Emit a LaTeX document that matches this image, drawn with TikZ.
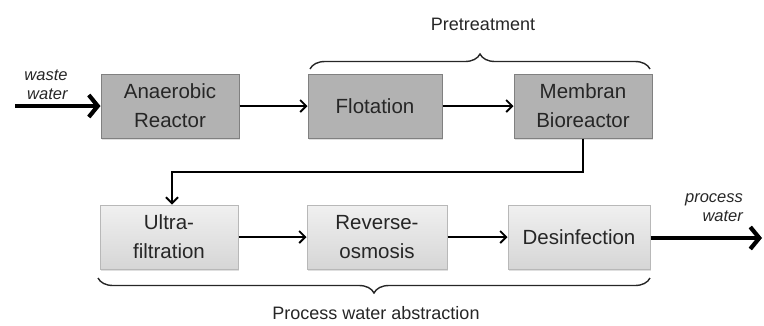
\documentclass[tikz,border=0pt]{standalone}
\usepackage{fontspec}
\setmainfont{Liberation Sans}
\usetikzlibrary{arrows.meta,decorations.pathreplacing,shadows}
\definecolor{txt}{HTML}{262626}
\definecolor{darkfill}{HTML}{B2B2B2}
\definecolor{darkline}{HTML}{808080}
\definecolor{lighttop}{HTML}{F0F0F0}
\definecolor{lightbot}{HTML}{D6D6D6}
\definecolor{lightline}{HTML}{B8B8B8}
\tikzset{
  x=1pt, y=-1pt,
  boxbase/.style={minimum width=138pt, minimum height=64pt, align=center,
    font=\fontsize{20.5}{29}\selectfont, text=txt, inner sep=2pt,
    drop shadow={shadow xshift=1.2pt, shadow yshift=-1.5pt, opacity=0.25}},
  darkbox/.style={boxbase, fill=darkfill, draw=darkline, line width=1pt},
  lightbox/.style={boxbase, top color=lighttop, bottom color=lightbot, draw=lightline, line width=1pt},
  flow/.style={line width=1.6pt, draw=black, -{Straight Barb[length=6pt,width=12pt,line width=1.8pt]}},
  bigflow/.style={line width=4.8pt, draw=black, -{Straight Barb[length=9pt,width=22pt,line width=4.2pt]}},
  bracestyle/.style={decorate, decoration={brace, amplitude=15pt, aspect=0.5}, line width=1.4pt, draw=txt},
  lbl/.style={font=\fontsize{18}{21}\selectfont, text=txt},
  ilbl/.style={font=\fontsize{16.5}{19}\selectfont\itshape, text=txt, align=right}
}
\begin{document}
\begin{tikzpicture}
\useasboundingbox (0,0) rectangle (764,325);
% top row
\node[darkbox] (ana) at (170,106) {Anaerobic\\Reactor};
\node[darkbox, minimum width=134pt] (flo) at (375,106) {Flotation};
\node[darkbox] (mbr) at (583,106) {Membran\\Bioreactor};
% bottom row
\node[lightbox] (uf) at (169,237) {Ultra-\\filtration};
\node[lightbox, minimum width=140pt] (ro) at (377,237) {Reverse-\\osmosis};
\node[lightbox, minimum width=142pt] (des) at (579,237) {Desinfection};
% inputs / outputs
\coordinate (win) at (15,106);
\coordinate (wout) at (762,238);
\draw[bigflow] (win) -- (ana.west);
\draw[bigflow] (des.east |- wout) -- (wout);
\node[ilbl] (wl) at (46,85) {waste\\water};
\node[ilbl] (pl) at (714,208) {process\\water};
% connectors
\draw[flow] (ana) -- (flo);
\draw[flow] (flo) -- (mbr);
\draw[flow] (ro) -- (des);
\draw[flow] (uf) -- (ro);
\coordinate (bend1) at (583,172);
\coordinate (bend2) at (172,172);
\draw[flow] (mbr.south) -- (bend1) -- (bend2) -- (uf.north -| bend2);
% braces
\coordinate (pb1) at (310,69);
\coordinate (pb2) at (650,69);
\draw[bracestyle] (pb1) -- (pb2);
\node[lbl] (pt) at (483,24) {Pretreatment};
\coordinate (bb1) at (650,278);
\coordinate (bb2) at (98,278);
\draw[bracestyle] (bb1) -- (bb2);
\node[lbl] (pwa) at (376,313) {Process water abstraction};
\end{tikzpicture}
\end{document}
